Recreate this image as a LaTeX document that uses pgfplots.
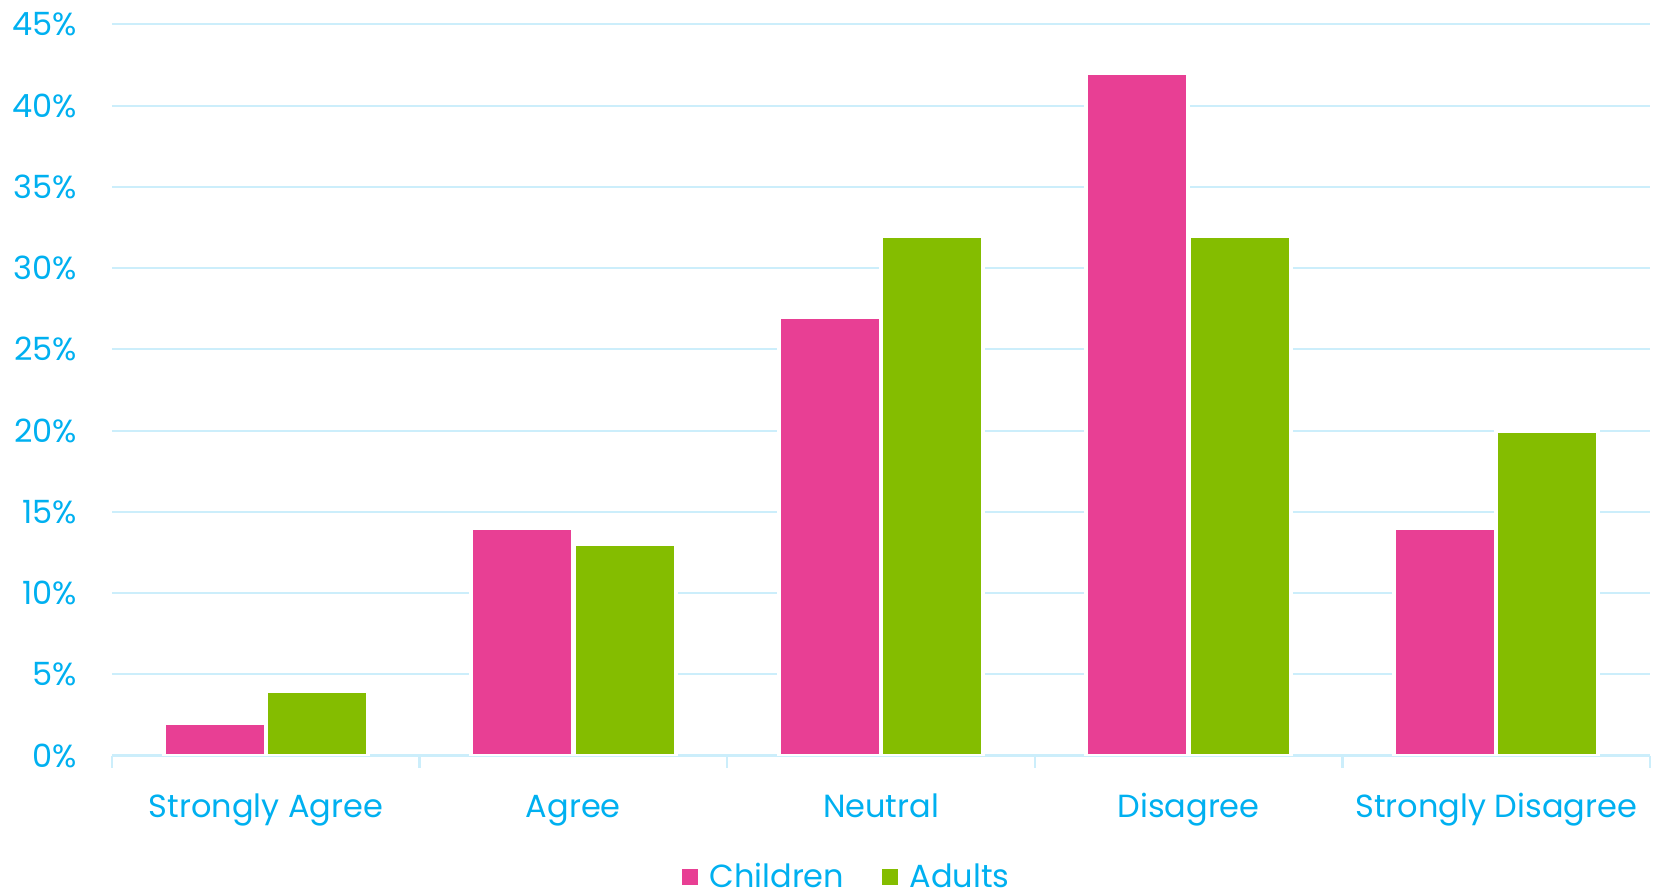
\documentclass[border=0pt]{standalone}
\usepackage{pgfplots}
\pgfplotsset{compat=1.18}
\usepackage{fontspec}
\setmainfont{Poppins}
\definecolor{txtblue}{HTML}{00B0F0}
\definecolor{gridblue}{HTML}{CCEEFB}
\definecolor{pinkbar}{HTML}{E83F94}
\definecolor{greenbar}{HTML}{84BD00}
\begin{document}
\begin{tikzpicture}
\begin{axis}[
  scale only axis, width=769pt, height=365.65pt,
  xmin=-0.5, xmax=4.5, ymin=0, ymax=45,
  axis x line*=bottom, axis y line*=left,
  y axis line style={draw=none},
  x axis line style={gridblue, line width=1.2pt},
  ytick={0,5,...,45},
  yticklabels={0\%,5\%,10\%,15\%,20\%,25\%,30\%,35\%,40\%,45\%},
  xtick={0,1,2,3,4},
  xticklabels={Strongly Agree, Agree, Neutral, Disagree, Strongly Disagree},
  minor xtick={-0.5,0.5,1.5,2.5,3.5,4.5},
  major tick length=0pt, minor tick length=6pt, tick align=outside,
  tick style={gridblue, line width=1.2pt},
  ymajorgrids, grid style={gridblue, line width=1pt},
  every tick label/.append style={font=\fontsize{16pt}{19pt}\selectfont, text=txtblue},
  yticklabel style={anchor=east, xshift=-14pt},
  xticklabel style={anchor=base, yshift=-30.7pt},
  ybar, bar width=51pt,
  legend style={at={(0.3704,-0.166)}, anchor=west, draw=none, fill=none, inner sep=0pt,
    font=\fontsize{16pt}{19pt}\selectfont, text=txtblue,
    /tikz/every odd column/.append style={column sep=3.7pt},
    /tikz/every even column/.append style={column sep=16.9pt}},
  legend columns=2, legend cell align=left,
  legend image code/.code={\fill[#1,draw=none] (0pt,-4pt) rectangle (8pt,4pt);},
]
\addplot[fill=pinkbar, draw=white, line width=2pt, bar shift=-25.6pt] coordinates {(0,2) (1,14) (2,27) (3,42) (4,14)};
\addplot[fill=greenbar, draw=white, line width=2pt, bar shift=25.6pt] coordinates {(0,4) (1,13) (2,32) (3,32) (4,20)};
\legend{Children, Adults}
\end{axis}
\pgfresetboundingbox
\useasboundingbox (-56pt,-67.2pt) rectangle (772.5pt,377.8pt);
\end{tikzpicture}
\end{document}
